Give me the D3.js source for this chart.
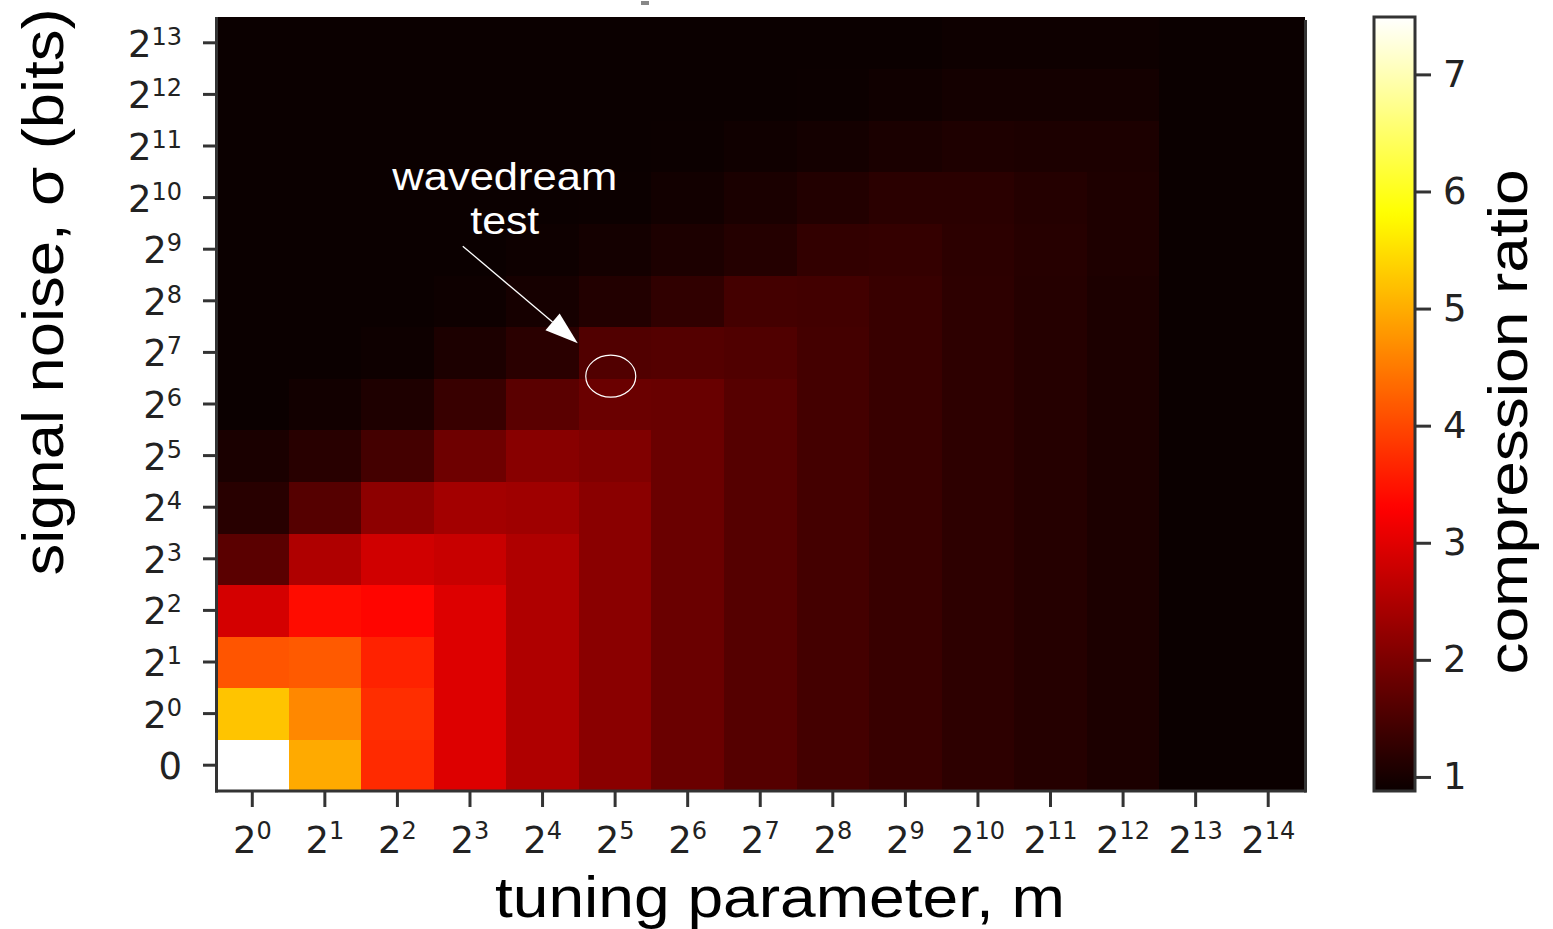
<!DOCTYPE html>
<html>
<head>
<meta charset="utf-8">
<script src="https://cdn.jsdelivr.net/npm/d3@7"></script>
<style>
  body { margin: 0; background: #fff; }
  svg { display: block; }
</style>
</head>
<body>
<svg id="chart" width="1553" height="929"></svg>
<script>
'use strict';

// tuning parameter m (columns, left to right)
const mTicks = ['2^0', '2^1', '2^2', '2^3', '2^4', '2^5', '2^6', '2^7',
  '2^8', '2^9', '2^10', '2^11', '2^12', '2^13', '2^14'];

// signal noise sigma (rows, bottom to top)
const sigmaTicks = ['0', '2^0', '2^1', '2^2', '2^3', '2^4', '2^5', '2^6',
  '2^7', '2^8', '2^9', '2^10', '2^11', '2^12', '2^13'];

// compression ratio, one row per sigma (bottom row first), one value per m
const ratio = [
  [7.49, 4.97, 3.71, 2.96, 2.50, 2.14, 1.82, 1.61, 1.45, 1.33, 1.22, 1.14, 1.05, 0.88, 0.88], // 0
  [5.23, 4.64, 3.75, 2.96, 2.50, 2.14, 1.82, 1.61, 1.45, 1.33, 1.22, 1.14, 1.05, 0.88, 0.88], // 2^0
  [4.13, 4.18, 3.63, 2.96, 2.50, 2.14, 1.82, 1.61, 1.45, 1.33, 1.22, 1.14, 1.05, 0.88, 0.88], // 2^1
  [2.87, 3.41, 3.34, 2.96, 2.50, 2.14, 1.82, 1.61, 1.45, 1.33, 1.22, 1.14, 1.05, 0.88, 0.88], // 2^2
  [1.66, 2.50, 2.83, 2.75, 2.50, 2.14, 1.82, 1.61, 1.45, 1.33, 1.22, 1.14, 1.05, 0.88, 0.88], // 2^3
  [1.17, 1.61, 2.17, 2.38, 2.35, 2.14, 1.82, 1.61, 1.45, 1.33, 1.22, 1.14, 1.05, 0.88, 0.88], // 2^4
  [1.03, 1.17, 1.45, 1.86, 2.12, 2.04, 1.82, 1.61, 1.45, 1.33, 1.22, 1.14, 1.05, 0.88, 0.88], // 2^5
  [0.88, 0.95, 1.07, 1.33, 1.66, 1.82, 1.80, 1.62, 1.45, 1.33, 1.22, 1.14, 1.05, 0.88, 0.88], // 2^6
  [0.88, 0.88, 0.91, 1.05, 1.19, 1.58, 1.60, 1.57, 1.45, 1.33, 1.22, 1.14, 1.05, 0.88, 0.88], // 2^7
  [0.88, 0.88, 0.88, 0.91, 0.99, 1.11, 1.25, 1.45, 1.43, 1.33, 1.22, 1.14, 1.05, 0.88, 0.88], // 2^8
  [0.88, 0.88, 0.88, 0.88, 0.91, 0.97, 1.05, 1.13, 1.27, 1.29, 1.21, 1.15, 1.07, 0.88, 0.88], // 2^9
  [0.88, 0.88, 0.88, 0.88, 0.88, 0.89, 0.95, 1.03, 1.11, 1.19, 1.19, 1.13, 1.07, 0.88, 0.88], // 2^10
  [0.88, 0.88, 0.88, 0.88, 0.88, 0.88, 0.89, 0.93, 0.97, 1.03, 1.07, 1.05, 1.05, 0.88, 0.88], // 2^11
  [0.88, 0.88, 0.88, 0.88, 0.88, 0.88, 0.88, 0.88, 0.89, 0.93, 0.97, 0.97, 0.97, 0.88, 0.88], // 2^12
  [0.88, 0.88, 0.88, 0.88, 0.88, 0.88, 0.88, 0.88, 0.88, 0.88, 0.91, 0.91, 0.91, 0.88, 0.88]  // 2^13
];

const cbarTicks = [1, 2, 3, 4, 5, 6, 7];

// matplotlib 'hot' colormap
function hot(t) {
  t = Math.max(0, Math.min(1, t));
  var r = t < 0.365079 ? 0.0416 + (1 - 0.0416) * t / 0.365079 : 1;
  var g = t < 0.365079 ? 0 : (t < 0.746032 ? (t - 0.365079) / (0.746032 - 0.365079) : 1);
  var b = t < 0.746032 ? 0 : (t - 0.746032) / (1 - 0.746032);
  return d3.rgb(r * 255, g * 255, b * 255).toString();
}

var vmin = d3.min(ratio.flat());
var vmax = d3.max(ratio.flat());
var color = d3.scaleSequential(hot).domain([vmin, vmax]);

var svg = d3.select('#chart');

var x = d3.scaleBand().domain(mTicks).range([216, 1304.5]);
var y = d3.scaleBand().domain(sigmaTicks).range([791, 17]);

var cells = ratio.flatMap((row, i) => row.map((v, j) => ({sigma: sigmaTicks[i], m: mTicks[j], v: v})));

svg.append('g')
  .attr('class', 'cells')
  .attr('shape-rendering', 'crispEdges')
  .selectAll('rect')
  .data(cells)
  .join('rect')
  .attr('x', d => x(d.m))
  .attr('y', d => y(d.sigma))
  .attr('width', x.bandwidth() + 0.6)
  .attr('height', y.bandwidth() + 0.6)
  .attr('fill', d => color(d.v));

// "2^k" -> 2 with superscript k
function powLabel(sel, supSize, shift) {
  sel.each(function(d) {
    var t = d3.select(this);
    var parts = String(d).split('^');
    t.text(null);
    t.append('tspan').text(parts[0]);
    if (parts[1] != null) {
      t.append('tspan').attr('font-size', supSize).attr('dy', -shift).text(parts[1]);
    }
  });
}

function styleAxis(g) {
  g.select('.domain').remove();
  g.selectAll('.tick line').attr('stroke', '#333').attr('stroke-width', 3);
  g.selectAll('.tick text')
    .attr('font-family', 'DejaVu Sans')
    .attr('font-size', 37)
    .attr('fill', '#222');
}

var xAxis = svg.append('g')
  .attr('transform', 'translate(0,791)')
  .call(d3.axisBottom(x).tickSize(16).tickSizeOuter(0).tickPadding(20))
  .call(styleAxis);
xAxis.selectAll('.tick text').call(powLabel, 24, 14);

var yAxis = svg.append('g')
  .attr('transform', 'translate(216,0)')
  .call(d3.axisLeft(y).tickSize(13).tickSizeOuter(0).tickPadding(21))
  .call(styleAxis);
yAxis.selectAll('.tick text').attr('dy', '0.38em').call(powLabel, 24, 12);

// spines
var spines = svg.append('g').attr('stroke', '#333').attr('stroke-width', 3);
spines.append('line').attr('x1', 216.5).attr('x2', 216.5).attr('y1', 17).attr('y2', 792.5);
spines.append('line').attr('x1', 215).attr('x2', 1306.5).attr('y1', 791).attr('y2', 791);
spines.append('line').attr('x1', 1305.5).attr('x2', 1305.5).attr('y1', 20).attr('y2', 792.5);

// colorbar
var cbX = 1374, cbW = 41;
var cScale = d3.scaleLinear().domain([vmin, vmax]).range([791, 17]);

var grad = svg.append('defs').append('linearGradient')
  .attr('id', 'cbGrad')
  .attr('x1', 0).attr('y1', 1).attr('x2', 0).attr('y2', 0);
grad.selectAll('stop')
  .data(d3.range(0, 1.0001, 0.01))
  .join('stop')
  .attr('offset', d => d)
  .attr('stop-color', d => hot(d));

svg.append('rect')
  .attr('x', cbX)
  .attr('y', cScale(vmax))
  .attr('width', cbW)
  .attr('height', cScale(vmin) - cScale(vmax))
  .attr('fill', 'url(#cbGrad)')
  .attr('stroke', '#333')
  .attr('stroke-width', 3);

svg.append('g')
  .attr('transform', 'translate(' + (cbX + cbW) + ',0)')
  .call(d3.axisRight(cScale).tickValues(cbarTicks).tickFormat(d3.format('d'))
    .tickSize(16).tickSizeOuter(0).tickPadding(12))
  .call(styleAxis);

// axis titles
svg.append('text')
  .attr('x', 780)
  .attr('y', 917)
  .attr('text-anchor', 'middle')
  .attr('font-family', 'Liberation Sans')
  .attr('font-size', 58)
  .attr('textLength', 570)
  .attr('lengthAdjust', 'spacingAndGlyphs')
  .text('tuning parameter, m');

svg.append('text')
  .attr('transform', 'translate(63,292)rotate(-90)')
  .attr('text-anchor', 'middle')
  .attr('font-family', 'Liberation Sans')
  .attr('font-size', 58)
  .attr('textLength', 567)
  .attr('lengthAdjust', 'spacingAndGlyphs')
  .text('signal noise, σ (bits)');

svg.append('text')
  .attr('transform', 'translate(1527,422)rotate(-90)')
  .attr('text-anchor', 'middle')
  .attr('font-family', 'Liberation Sans')
  .attr('font-size', 56)
  .attr('textLength', 505)
  .attr('lengthAdjust', 'spacingAndGlyphs')
  .text('compression ratio');

// annotation: circle on the 2^5 / 2^6 cell edge, arrow and label
var cx = x('2^5') + 0.44 * x.bandwidth();
var cy = y('2^6') - 2;
var note = svg.append('g').attr('class', 'note');

note.append('ellipse')
  .attr('cx', cx).attr('cy', cy)
  .attr('rx', 25).attr('ry', 21)
  .attr('fill', 'none')
  .attr('stroke', 'white')
  .attr('stroke-width', 1.2);

var tail = [cx - 148, cy - 130];
var tip = [cx - 33, cy - 33];
var len = Math.hypot(tip[0] - tail[0], tip[1] - tail[1]);
var u = [(tip[0] - tail[0]) / len, (tip[1] - tail[1]) / len];
var n = [-u[1], u[0]];
var headLen = 33, headHalf = 11;
var base = [tip[0] - headLen * u[0], tip[1] - headLen * u[1]];

note.append('line')
  .attr('x1', tail[0]).attr('y1', tail[1])
  .attr('x2', base[0]).attr('y2', base[1])
  .attr('stroke', 'white')
  .attr('stroke-width', 1.3);

note.append('polygon')
  .attr('points', [
    tip,
    [base[0] + headHalf * n[0], base[1] + headHalf * n[1]],
    [base[0] - headHalf * n[0], base[1] - headHalf * n[1]]
  ].map(p => p.join(',')).join(' '))
  .attr('fill', 'white');

note.append('text')
  .attr('x', cx - 106).attr('y', cy - 186)
  .attr('text-anchor', 'middle')
  .attr('font-family', 'Liberation Sans')
  .attr('font-size', 38)
  .attr('fill', 'white')
  .attr('textLength', 225)
  .attr('lengthAdjust', 'spacingAndGlyphs')
  .text('wavedream');

note.append('text')
  .attr('x', cx - 106).attr('y', cy - 142)
  .attr('text-anchor', 'middle')
  .attr('font-family', 'Liberation Sans')
  .attr('font-size', 38)
  .attr('fill', 'white')
  .attr('textLength', 69)
  .attr('lengthAdjust', 'spacingAndGlyphs')
  .text('test');

// stray mark above the plot in the original
svg.append('rect')
  .attr('x', 641).attr('y', 1)
  .attr('width', 8).attr('height', 4)
  .attr('fill', '#888');
</script>
</body>
</html>
